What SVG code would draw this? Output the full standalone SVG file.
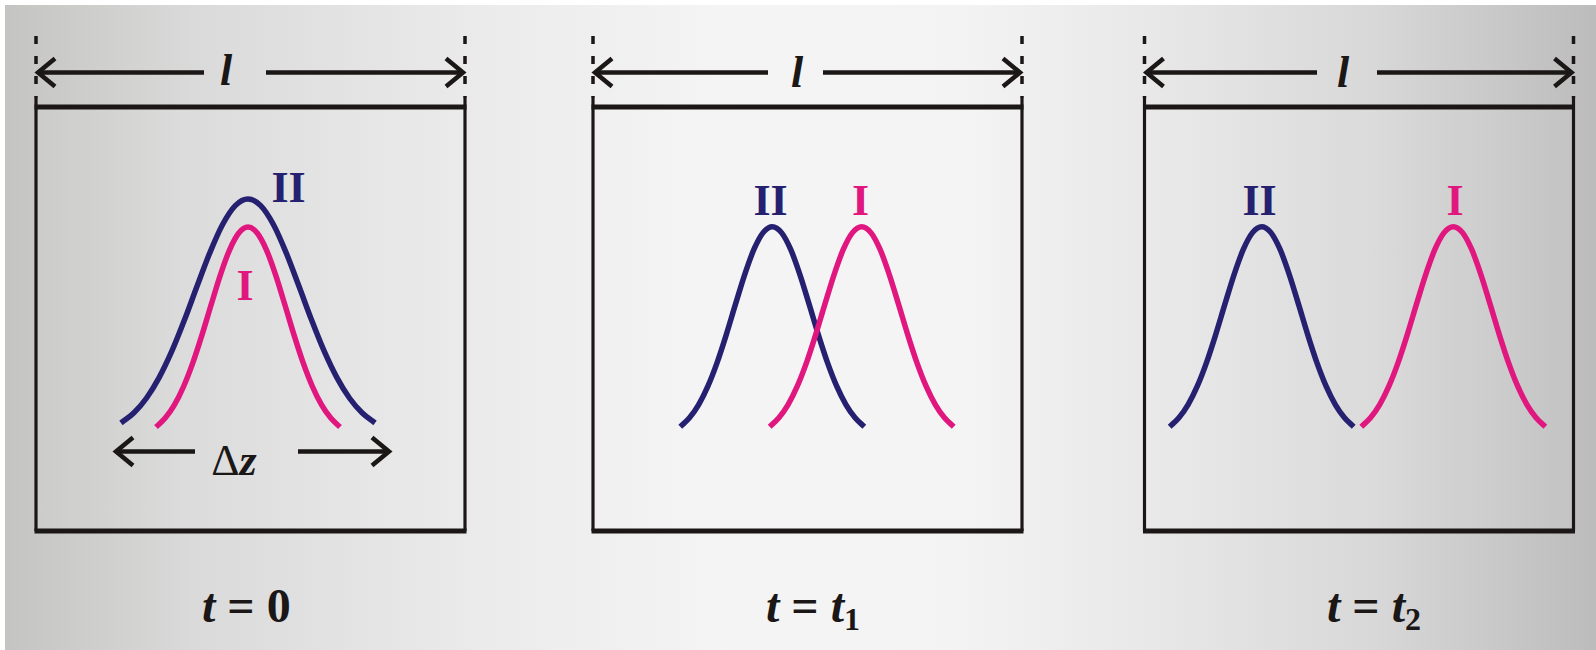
<svg xmlns="http://www.w3.org/2000/svg" xmlns:xlink="http://www.w3.org/1999/xlink" width="1596" height="650" viewBox="0 0 1596 650">
<defs>
<linearGradient id="bg" x1="0" y1="0" x2="1" y2="0">
<stop offset="0" stop-color="#c4c4c2"/>
<stop offset="0.12" stop-color="#dadada"/>
<stop offset="0.3" stop-color="#ebebeb"/>
<stop offset="0.45" stop-color="#f4f4f4"/>
<stop offset="0.6" stop-color="#f3f3f3"/>
<stop offset="0.72" stop-color="#e8e8e8"/>
<stop offset="0.86" stop-color="#d8d8d8"/>
<stop offset="1" stop-color="#bcbcbc"/>
</linearGradient>
<path id="gauss" vector-effect="non-scaling-stroke" d="M -92 200 C -88.93 197.03 -85.87 194.78 -82.8 191.1 C -79.73 187.42 -76.67 183.17 -73.6 177.9 C -70.53 172.63 -67.47 166.5 -64.4 159.5 C -61.33 152.5 -58.27 144.52 -55.2 135.92 C -52.13 127.32 -49.07 117.62 -46 107.88 C -42.93 98.14 -39.87 87.48 -36.8 77.48 C -33.73 67.48 -30.67 56.98 -27.6 47.86 C -24.53 38.74 -21.47 29.77 -18.4 22.78 C -15.33 15.790 -12.27 9.72 -9.2 5.92 C -6.13 2.12 -3.07 0 0 0 C 3.07 0 6.13 2.12 9.2 5.92 C 12.27 9.72 15.33 15.79 18.4 22.78 C 21.47 29.77 24.53 38.74 27.6 47.86 C 30.67 56.98 33.73 67.48 36.8 77.48 C 39.87 87.48 42.93 98.14 46 107.88 C 49.07 117.62 52.13 127.32 55.2 135.92 C 58.27 144.52 61.33 152.5 64.4 159.5 C 67.47 166.5 70.53 172.63 73.6 177.9 C 76.67 183.17 79.73 187.42 82.8 191.1 C 85.87 194.78 88.93 197.03 92 200"/>
<path id="chevL" d="M 17 -14 L 0 0 L 17 14"/>
<path id="chevR" d="M -17 -14 L 0 0 L -17 14"/>
</defs>
<style>
.frame{fill:none;stroke:#1a1716;stroke-width:3.2}
.edge{fill:none;stroke:#1a1716;stroke-width:5}
.dash{fill:none;stroke:#1a1716;stroke-width:3.5;stroke-dasharray:8 12}
.arr{fill:none;stroke:#1a1716;stroke-width:4.5}
.head{fill:none;stroke:#1a1716;stroke-width:4.5;stroke-linejoin:miter}
.blue{fill:none;stroke:#25206f;stroke-width:5.5}
.pink{fill:none;stroke:#e0177f;stroke-width:5.5}
.lab{font-family:"Liberation Serif",serif;font-weight:bold;font-size:44px;text-anchor:middle}
.lt{font-family:"Liberation Serif",serif;font-weight:bold;font-style:italic;font-size:44px;text-anchor:middle;fill:#1a1716}
.tl{font-family:"Liberation Serif",serif;font-weight:bold;font-size:48px;fill:#1a1716}
.it{font-style:italic}
.sub{font-size:32px}
</style>
<rect x="0" y="0" width="1596" height="650" fill="#ffffff"/>
<rect x="5" y="5" width="1591" height="645" fill="url(#bg)"/>

<g id="box1">
<rect x="36" y="107" width="429" height="424" fill="#ffffff" fill-opacity="0.08" stroke="none"/>
<line class="frame" x1="36" y1="98" x2="36" y2="531"/>
<line class="frame" x1="465" y1="98" x2="465" y2="531"/>
<line class="edge" x1="34.5" y1="107" x2="466.5" y2="107"/>
<line class="edge" x1="34.5" y1="531" x2="466.5" y2="531"/>
<line class="dash" x1="36" y1="36" x2="36" y2="98"/>
<line class="dash" x1="465" y1="36" x2="465" y2="98"/>
<text class="lt" x="226" y="85">l</text>
<use href="#gauss" class="blue" transform="translate(248,199) scale(1.3804,1.12)"/>
<use href="#gauss" class="pink" transform="translate(248,227)"/>
<text class="lab" x="288.5" y="202" fill="#25206f">II</text>
<text class="lab" x="245" y="300" fill="#e0177f">I</text>
<text x="234" y="475" style="font-family:'Liberation Serif',serif;font-size:44px;text-anchor:middle;fill:#1a1716">Δ<tspan font-weight="bold" font-style="italic">z</tspan></text>
</g>

<g id="box2">
<rect x="593" y="107" width="429" height="424" fill="#ffffff" fill-opacity="0.08" stroke="none"/>
<line class="frame" x1="593" y1="98" x2="593" y2="531"/>
<line class="frame" x1="1022" y1="98" x2="1022" y2="531"/>
<line class="edge" x1="591.5" y1="107" x2="1023.5" y2="107"/>
<line class="edge" x1="591.5" y1="531" x2="1023.5" y2="531"/>
<line class="dash" x1="593" y1="36" x2="593" y2="98"/>
<line class="dash" x1="1022" y1="36" x2="1022" y2="98"/>
<text class="lt" x="797" y="87">l</text>
<use href="#gauss" class="blue" transform="translate(772.3,226.7)"/>
<use href="#gauss" class="pink" transform="translate(861.7,226.7)"/>
<text class="lab" x="770.5" y="215" fill="#25206f">II</text>
<text class="lab" x="860.5" y="215" fill="#e0177f">I</text>
</g>

<g id="box3">
<rect x="1144.5" y="107" width="429" height="424" fill="#ffffff" fill-opacity="0.08" stroke="none"/>
<line class="frame" x1="1144.5" y1="98" x2="1144.5" y2="531"/>
<line class="frame" x1="1573.5" y1="98" x2="1573.5" y2="531"/>
<line class="edge" x1="1143" y1="107" x2="1575" y2="107"/>
<line class="edge" x1="1143" y1="531" x2="1575" y2="531"/>
<line class="dash" x1="1144.5" y1="36" x2="1144.5" y2="98"/>
<line class="dash" x1="1573.5" y1="36" x2="1573.5" y2="98"/>
<text class="lt" x="1343" y="87">l</text>
<use href="#gauss" class="blue" transform="translate(1261.7,226.7)"/>
<use href="#gauss" class="pink" transform="translate(1453.3,226.7)"/>
<text class="lab" x="1259.5" y="215" fill="#25206f">II</text>
<text class="lab" x="1455" y="215" fill="#e0177f">I</text>
</g>

<g id="connectors">
<line class="arr" x1="38" y1="72.5" x2="204" y2="72.5"/>
<use href="#chevL" class="head" transform="translate(38,72.5)"/>
<line class="arr" x1="266" y1="72.5" x2="463" y2="72.5"/>
<use href="#chevR" class="head" transform="translate(463,72.5)"/>
<line class="arr" x1="595" y1="72.5" x2="768" y2="72.5"/>
<use href="#chevL" class="head" transform="translate(595,72.5)"/>
<line class="arr" x1="823" y1="72.5" x2="1020" y2="72.5"/>
<use href="#chevR" class="head" transform="translate(1020,72.5)"/>
<line class="arr" x1="1146.5" y1="72.5" x2="1317" y2="72.5"/>
<use href="#chevL" class="head" transform="translate(1146.5,72.5)"/>
<line class="arr" x1="1377" y1="72.5" x2="1571.5" y2="72.5"/>
<use href="#chevR" class="head" transform="translate(1571.5,72.5)"/>
<line class="arr" x1="116" y1="451.5" x2="195" y2="451.5"/>
<use href="#chevL" class="head" transform="translate(116,451.5)"/>
<line class="arr" x1="298" y1="451.5" x2="389" y2="451.5"/>
<use href="#chevR" class="head" transform="translate(389,451.5)"/>
</g>

<g id="labels">
<text class="tl" x="202" y="622"><tspan class="it">t</tspan> = 0</text>
<text class="tl" x="766" y="622"><tspan class="it">t</tspan> = <tspan class="it">t</tspan><tspan class="sub" dy="8">1</tspan></text>
<text class="tl" x="1327" y="622"><tspan class="it">t</tspan> = <tspan class="it">t</tspan><tspan class="sub" dy="8">2</tspan></text>
</g>
</svg>
